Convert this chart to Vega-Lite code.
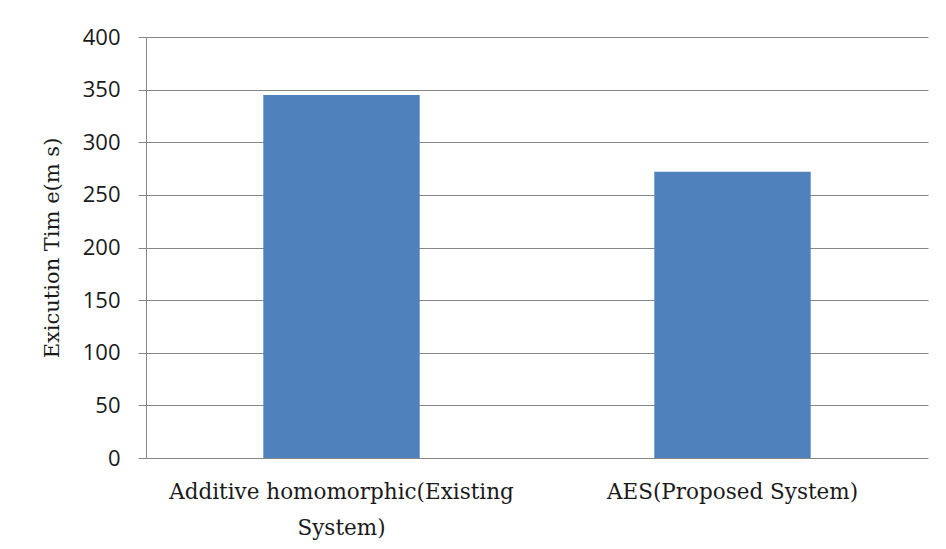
{
  "$schema": "https://vega.github.io/schema/vega-lite/v6.json",
  "width": 782,
  "height": 421,
  "autosize": {"type": "none"},
  "padding": {"left": 146, "top": 37, "right": 18, "bottom": 91},
  "background": "white",
  "data": {
    "values": [
      {"system": "Additive homomorphic(Existing System)", "time": 345},
      {"system": "AES(Proposed System)", "time": 272}
    ]
  },
  "mark": {"type": "bar", "color": "#4F81BD"},
  "encoding": {
    "x": {
      "field": "system",
      "type": "nominal",
      "sort": null,
      "scale": {"paddingInner": 0.6, "paddingOuter": 0.3},
      "axis": {
        "title": null,
        "labelAngle": 0,
        "domain": false,
        "ticks": false,
        "labelFont": "DejaVu Serif",
        "labelFontSize": 21.5,
        "labelColor": "#1a1a1a",
        "labelPadding": 23,
        "labelLineHeight": 36,
        "labelLimit": 0,
        "labelExpr": "datum.label == 'Additive homomorphic(Existing System)' ? ['Additive homomorphic(Existing', 'System)'] : datum.label"
      }
    },
    "y": {
      "field": "time",
      "type": "quantitative",
      "scale": {"domain": [0, 400], "nice": false},
      "axis": {
        "values": [0, 50, 100, 150, 200, 250, 300, 350, 400],
        "title": "Exicution Tim e(m s)",
        "titleFont": "DejaVu Serif",
        "titleFontSize": 21,
        "titleFontWeight": "normal",
        "titleColor": "#1a1a1a",
        "titlePadding": 20,
        "labelFont": "Open Sans",
        "labelFontSize": 22,
        "labelColor": "#1a1a1a",
        "labelPadding": 18,
        "tickSize": 8,
        "tickColor": "#868686",
        "domainColor": "#868686",
        "gridColor": "#868686",
        "gridOpacity": 1,
        "grid": true
      }
    }
  },
  "config": {"view": {"stroke": null}}
}
